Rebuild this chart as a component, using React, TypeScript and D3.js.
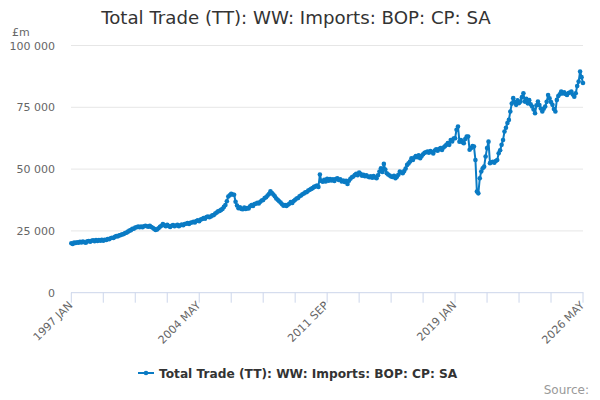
import React from 'react';
import * as d3 from 'd3';

// monthly imports, £m, Jan 1997 onwards
const y1997 = [20000, 19700, 20300, 20100, 20400, 20200, 20600, 20300, 20700, 20400, 20200, 20800];
const y1998 = [20900, 20600, 21000, 21200, 20800, 21300, 20900, 21300, 21000, 21400, 21000, 21400];
const y1999 = [21300, 21700, 21600, 22000, 22200, 22100, 22600, 22900, 22800, 23200, 23300, 23600];
const y2000 = [23700, 24100, 24300, 24700, 25100, 25300, 25800, 25900, 26400, 26500, 26800, 26500];
const y2001 = [26800, 26500, 26900, 27100, 26900, 26700, 27100, 26600, 26300, 25800, 25400, 25600];
const y2002 = [26100, 26700, 27100, 27800, 27300, 26900, 27500, 27000, 26600, 27100, 27400, 26900];
const y2003 = [27200, 27500, 26900, 27300, 27600, 27300, 27800, 27900, 28200, 27800, 28300, 28400];
const y2004 = [28700, 28400, 29000, 29300, 28900, 29600, 29800, 30200, 29900, 30600, 30800, 30500];
const y2005 = [30800, 31300, 31400, 32000, 32400, 32900, 33100, 33500, 33900, 34700, 35500, 37000];
const y2006 = [38900, 39400, 40000, 39700, 39600, 36800, 35300, 34200, 34500, 33900, 33800, 34400];
const y2007 = [33900, 34200, 34100, 35000, 35500, 35100, 35900, 36000, 36400, 36100, 36800, 37300];
const y2008 = [37500, 38300, 38600, 39300, 39900, 41000, 40300, 39700, 39000, 38100, 37600, 37000];
const y2009 = [36500, 35800, 35200, 35500, 35100, 35600, 36000, 36700, 36300, 37100, 37600, 38100];
const y2010 = [38300, 39000, 39300, 39800, 40100, 40600, 40700, 41300, 41600, 42000, 42300, 42800];
const y2011 = [43000, 43300, 42800, 47800, 45200, 44900, 45700, 45000, 46100, 45300, 46000, 45400];
const y2012 = [45900, 45200, 46000, 46300, 45600, 45900, 45000, 45400, 44800, 45300, 44000, 45300];
const y2013 = [46100, 46700, 47000, 47600, 48100, 47500, 48600, 48100, 47300, 47700, 47100, 47500];
const y2014 = [47000, 46700, 47100, 46500, 47200, 46600, 46300, 47500, 49000, 50300, 48800, 52100];
const y2015 = [49800, 48300, 47800, 47400, 47000, 46800, 47300, 46300, 46900, 47700, 49000, 48600];
const y2016 = [48300, 49200, 50200, 51700, 52300, 53100, 54400, 53700, 54700, 55300, 54800, 55600];
const y2017 = [54400, 55300, 56000, 56600, 56800, 57100, 56600, 57300, 56900, 56300, 57500, 58000];
const y2018 = [57400, 58100, 58500, 57700, 58700, 59200, 59800, 60500, 59800, 61800, 61200, 62400];
const y2019 = [62500, 65900, 67200, 61100, 61800, 60900, 60500, 62200, 63200, 63200, 57800, 58500];
const y2020 = [59300, 59100, 53700, 40900, 40200, 46300, 49000, 50300, 51000, 55100, 58500, 61100];
const y2021 = [52400, 52800, 53000, 52600, 53300, 53700, 56400, 57600, 59800, 61800, 65200, 66700];
const y2022 = [68600, 69900, 73300, 76500, 78700, 77100, 76000, 77800, 76700, 77300, 79100, 80700];
const y2023 = [77300, 78400, 76600, 77900, 76200, 75300, 74100, 72600, 75800, 77300, 75900, 74500];
const y2024 = [73300, 74400, 75300, 77200, 80000, 78600, 77100, 76000, 74300, 73300, 78000, 79600];
const y2025 = [80300, 81400, 80600, 81100, 80400, 80000, 80800, 81000, 81400, 80200, 79300, 80700];
const y2026 = [83600, 85400, 89500, 87200, 84800];

const imports = [
  ...y1997, ...y1998, ...y1999, ...y2000, ...y2001, ...y2002, ...y2003, ...y2004,
  ...y2005, ...y2006, ...y2007, ...y2008, ...y2009, ...y2010, ...y2011, ...y2012,
  ...y2013, ...y2014, ...y2015, ...y2016, ...y2017, ...y2018, ...y2019, ...y2020,
  ...y2021, ...y2022, ...y2023, ...y2024, ...y2025, ...y2026,
];

const startYear = 1997;
const months = ['JAN', 'FEB', 'MAR', 'APR', 'MAY', 'JUN', 'JUL', 'AUG', 'SEP', 'OCT', 'NOV', 'DEC'];
const yTicks = [0, 25000, 50000, 75000, 100000];
const title = 'Total Trade (TT): WW: Imports: BOP: CP: SA';

const W = 600;
const H = 400;
const blue = '#0a7bc4';
const font = '"DejaVu Sans", sans-serif';

const monthLabel = (i: number) => `${startYear + Math.floor(i / 12)} ${months[i % 12]}`;
const fmt = (v: number) => d3.format(',')(v).replace(/,/g, ' ');

export default function App() {
  const x = d3.scaleLinear().domain([0, imports.length - 1]).range([71.3, 583]);
  const y = d3.scaleLinear().domain([0, 100000]).range([292.7, 45.5]);

  const line = d3.line<number>()
    .x((_, i) => x(i))
    .y(d => y(d));

  // minor tick every 22 months, label every 88
  const ticks = d3.range(0, imports.length, 22);

  return (
    <svg width={W} height={H} style={{ position: 'absolute', left: 0, top: 0, fontFamily: font }}>
      <rect width={W} height={H} fill="#fff" />
      <text x={296} y={24} textAnchor="middle" fontSize={18.2} fill="#333">{title}</text>

      {yTicks.map(t => (
        <g key={t}>
          {t > 0 && <line x1={71} x2={583} y1={y(t)} y2={y(t)} stroke="#e6e6e6" />}
          <text x={55} y={y(t) + 4} textAnchor="end" fontSize={11} fill="#666">{fmt(t)}</text>
        </g>
      ))}
      <text x={12} y={36} fontSize={11} fill="#666">£m</text>

      <line x1={71} x2={583.5} y1={292.7} y2={292.7} stroke="#ccd6eb" />
      {ticks.map(t => (
        <line key={t} x1={x(t)} x2={x(t)} y1={292.7} y2={302.7} stroke="#ccd6eb" />
      ))}
      {ticks.filter(t => t % 88 === 0).map(t => (
        <text key={t} transform={`translate(${x(t) + 2},306) rotate(-45)`} textAnchor="end"
          fontSize={11} fill="#666">{monthLabel(t)}</text>
      ))}

      <path d={line(imports) ?? ''} fill="none" stroke={blue} strokeWidth={2} strokeLinejoin="round" />
      {imports.map((v, i) => (
        <circle key={i} cx={x(i)} cy={y(v)} r={2.3} fill={blue} />
      ))}

      <line x1={138} x2={154} y1={373} y2={373} stroke={blue} strokeWidth={2} />
      <circle cx={146} cy={373} r={2.3} fill={blue} />
      <text x={159} y={377.5} fontSize={12.2} fontWeight="bold" fill="#333">{title}</text>

      <text x={589} y={394} textAnchor="end" fontSize={12} fill="#999">Source:</text>
    </svg>
  );
}
